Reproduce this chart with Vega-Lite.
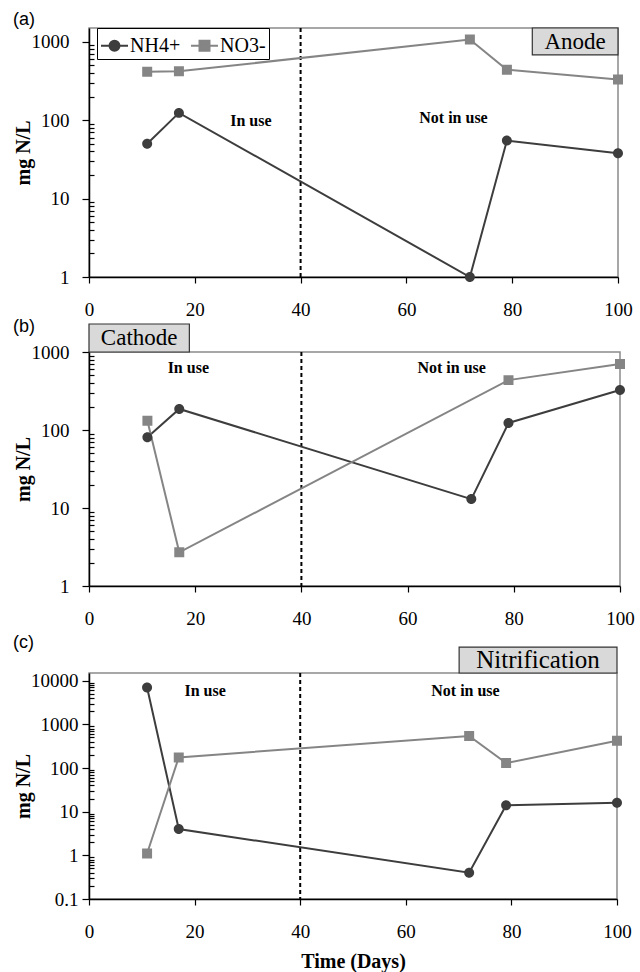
{
  "$schema": "https://vega.github.io/schema/vega-lite/v6.json",
  "background": "white",
  "padding": {"left": 12, "top": 10, "right": 5, "bottom": 2},
  "config": {
    "view": {"stroke": "#8a8a8a", "strokeWidth": 1.5},
    "font": "Liberation Serif",
    "legend": {"symbolStrokeWidth": 2},
    "axis": {"domainColor": "black", "domainWidth": 1.5, "tickColor": "black", "tickWidth": 1.2, "grid": false, "labelFont": "Liberation Serif", "labelFontSize": 19, "labelColor": "black", "titleFont": "Liberation Serif", "titleFontSize": 20, "titleFontWeight": "bold", "titleColor": "black", "labelFlush": false},
    "title": {"font": "Liberation Sans", "fontSize": 18, "fontWeight": "normal", "anchor": "start", "frame": "bounds", "color": "black"}
  },
  "datasets": {
    "nitrogen": [
      {"panel": "a", "series": "NH4+", "day": 11, "value": 50},
      {"panel": "a", "series": "NH4+", "day": 17, "value": 124},
      {"panel": "a", "series": "NH4+", "day": 72, "value": 1},
      {"panel": "a", "series": "NH4+", "day": 79, "value": 55},
      {"panel": "a", "series": "NH4+", "day": 100, "value": 38},
      {"panel": "a", "series": "NO3-", "day": 11, "value": 415},
      {"panel": "a", "series": "NO3-", "day": 17, "value": 420},
      {"panel": "a", "series": "NO3-", "day": 72, "value": 1070},
      {"panel": "a", "series": "NO3-", "day": 79, "value": 440},
      {"panel": "a", "series": "NO3-", "day": 100, "value": 330},
      {"panel": "b", "series": "NH4+", "day": 11, "value": 81},
      {"panel": "b", "series": "NH4+", "day": 17, "value": 186},
      {"panel": "b", "series": "NH4+", "day": 72, "value": 13},
      {"panel": "b", "series": "NH4+", "day": 79, "value": 123},
      {"panel": "b", "series": "NH4+", "day": 100, "value": 325},
      {"panel": "b", "series": "NO3-", "day": 11, "value": 131},
      {"panel": "b", "series": "NO3-", "day": 17, "value": 2.7},
      {"panel": "b", "series": "NO3-", "day": 79, "value": 436},
      {"panel": "b", "series": "NO3-", "day": 100, "value": 700},
      {"panel": "c", "series": "NH4+", "day": 11, "value": 7000},
      {"panel": "c", "series": "NH4+", "day": 17, "value": 4},
      {"panel": "c", "series": "NH4+", "day": 72, "value": 0.4},
      {"panel": "c", "series": "NH4+", "day": 79, "value": 14},
      {"panel": "c", "series": "NH4+", "day": 100, "value": 16},
      {"panel": "c", "series": "NO3-", "day": 11, "value": 1.1},
      {"panel": "c", "series": "NO3-", "day": 17, "value": 175},
      {"panel": "c", "series": "NO3-", "day": 72, "value": 540},
      {"panel": "c", "series": "NO3-", "day": 79, "value": 130},
      {"panel": "c", "series": "NO3-", "day": 100, "value": 420}
    ]
  },
  "vconcat": [
    {
      "width": 529,
      "height": 249,
      "title": {"text": "(a)", "offset": -2, "dx": 0},
      "layer": [
        {
          "data": {"values": [{}]},
          "mark": {"type": "rule", "strokeDash": [4, 3], "strokeWidth": 2, "color": "black"},
          "encoding": {"x": {"datum": 40, "type": "quantitative"}}
        },
        {
          "data": {"name": "nitrogen"},
          "transform": [{"filter": "datum.panel === 'a'"}],
          "mark": {"type": "line", "strokeWidth": 2},
          "encoding": {
            "x": {"field": "day", "type": "quantitative", "scale": {"domain": [0, 100], "nice": false}, "axis": {"values": [0, 20, 40, 60, 80, 100], "tickSize": 6, "labelPadding": 17, "title": null}},
            "y": {"field": "value", "type": "quantitative", "scale": {"type": "log", "domain": [1, 1500], "nice": false}, "axis": {"values": [1,2,3,4,5,6,7,8,9,10,20,30,40,50,60,70,80,90,100,200,300,400,500,600,700,800,900,1000], "format": "~g", "labelExpr": "abs(log(datum.value)/LN10 - round(log(datum.value)/LN10)) < 0.001 ? datum.label : ''", "tickSize": {"condition": {"test": "abs(log(datum.value)/LN10 - round(log(datum.value)/LN10)) < 0.001", "value": 7}, "value": -5}, "labelPadding": 13, "title": "mg N/L", "titleX": -66, "titleBaseline": "middle"}},
            "stroke": {"field": "series", "type": "nominal", "scale": {"domain": ["NH4+", "NO3-"], "range": ["#3d3d3d", "#858585"]},
              "legend": {"orient": "none", "legendX": 8, "legendY": 0, "direction": "horizontal", "title": null, "strokeColor": "black", "fillColor": "white", "padding": 3, "labelFontSize": 20, "labelFont": "Liberation Serif", "labelColor": "black", "symbolSize": 729, "labelOffset": 1, "columnPadding": 6, "symbolStrokeWidth": 2}}
          }
        },
        {
          "data": {"name": "nitrogen"},
          "transform": [{"filter": "datum.panel === 'a'"}],
          "mark": {"type": "point", "filled": true, "opacity": 1, "size": 729},
          "encoding": {
            "x": {"field": "day", "type": "quantitative"},
            "y": {"field": "value", "type": "quantitative"},
            "color": {"field": "series", "type": "nominal", "scale": {"domain": ["NH4+", "NO3-"], "range": ["#3d3d3d", "#858585"]},
              "legend": {"orient": "none", "legendX": 8, "legendY": 0, "direction": "horizontal", "title": null, "strokeColor": "black", "fillColor": "white", "padding": 3, "labelFontSize": 20, "labelFont": "Liberation Serif", "labelColor": "black", "symbolSize": 729, "labelOffset": 1, "columnPadding": 6, "symbolStrokeWidth": 2}},
            "shape": {"field": "series", "type": "nominal", "scale": {"domain": ["NH4+", "NO3-"], "range": ["M-1,0H1M0.37,0A0.37,0.37 0 1,1 -0.37,0A0.37,0.37 0 1,1 0.37,0Z", "M-1,0H1M-0.37,-0.37H0.37V0.37H-0.37Z"]},
              "legend": {"orient": "none", "legendX": 8, "legendY": 0, "direction": "horizontal", "title": null, "strokeColor": "black", "fillColor": "white", "padding": 3, "labelFontSize": 20, "labelFont": "Liberation Serif", "labelColor": "black", "symbolSize": 729, "labelOffset": 1, "columnPadding": 6, "symbolStrokeWidth": 2}}
          }
        },
        {
          "data": {"values": [{}]},
          "mark": {"type": "rect", "fill": "#d9d9d9", "stroke": "#333333", "strokeWidth": 1.2},
          "encoding": {"x": {"datum": 83.8, "type": "quantitative"}, "x2": {"datum": 100}, "y": {"datum": 1500, "type": "quantitative"}, "y2": {"datum": 680}}
        },
        {
          "data": {"values": [{}]},
          "mark": {"type": "text", "font": "Liberation Serif", "fontSize": 23, "color": "black"},
          "encoding": {"x": {"datum": 91.9, "type": "quantitative"}, "y": {"datum": 1000, "type": "quantitative"}, "text": {"value": "Anode"}}
        },
        {
          "data": {"values": [{}]},
          "mark": {"type": "text", "font": "Liberation Serif", "fontWeight": "bold", "fontSize": 16, "color": "black"},
          "encoding": {"x": {"datum": 30.6, "type": "quantitative"}, "y": {"datum": 98, "type": "quantitative"}, "text": {"value": "In use"}}
        },
        {
          "data": {"values": [{}]},
          "mark": {"type": "text", "font": "Liberation Serif", "fontWeight": "bold", "fontSize": 16, "color": "black"},
          "encoding": {"x": {"datum": 68.9, "type": "quantitative"}, "y": {"datum": 107, "type": "quantitative"}, "text": {"value": "Not in use"}}
        }
      ]
    },
    {
      "width": 531,
      "height": 234,
      "title": {"text": "(b)", "offset": -13, "dx": 0},
      "layer": [
        {
          "data": {"values": [{}]},
          "mark": {"type": "rule", "strokeDash": [4, 3], "strokeWidth": 2, "color": "black"},
          "encoding": {"x": {"datum": 40, "type": "quantitative"}}
        },
        {
          "data": {"name": "nitrogen"},
          "transform": [{"filter": "datum.panel === 'b'"}],
          "mark": {"type": "line", "strokeWidth": 2},
          "encoding": {
            "x": {"field": "day", "type": "quantitative", "scale": {"domain": [0, 100], "nice": false}, "axis": {"values": [0, 20, 40, 60, 80, 100], "tickSize": 6, "labelPadding": 17, "title": "Time", "titleOpacity": 0, "titleFontSize": 7, "titlePadding": 0}},
            "y": {"field": "value", "type": "quantitative", "scale": {"type": "log", "domain": [1, 1000], "nice": false}, "axis": {"values": [1,2,3,4,5,6,7,8,9,10,20,30,40,50,60,70,80,90,100,200,300,400,500,600,700,800,900,1000], "format": "~g", "labelExpr": "abs(log(datum.value)/LN10 - round(log(datum.value)/LN10)) < 0.001 ? datum.label : ''", "tickSize": {"condition": {"test": "abs(log(datum.value)/LN10 - round(log(datum.value)/LN10)) < 0.001", "value": 7}, "value": -5}, "labelPadding": 13, "title": "mg N/L", "titleX": -66, "titleBaseline": "middle"}},
            "stroke": {"field": "series", "type": "nominal", "scale": {"domain": ["NO3-", "NH4+"], "range": ["#858585", "#3d3d3d"]}, "legend": null}
          }
        },
        {
          "data": {"name": "nitrogen"},
          "transform": [{"filter": "datum.panel === 'b'"}],
          "mark": {"type": "point", "filled": true, "opacity": 1, "size": 729},
          "encoding": {
            "x": {"field": "day", "type": "quantitative"},
            "y": {"field": "value", "type": "quantitative"},
            "fill": {"field": "series", "type": "nominal", "scale": {"domain": ["NH4+", "NO3-"], "range": ["#3d3d3d", "#858585"]}, "legend": null},
            "shape": {"field": "series", "type": "nominal", "scale": {"domain": ["NH4+", "NO3-"], "range": ["M-1,0H1M0.37,0A0.37,0.37 0 1,1 -0.37,0A0.37,0.37 0 1,1 0.37,0Z", "M-1,0H1M-0.37,-0.37H0.37V0.37H-0.37Z"]}, "legend": null}
          }
        },
        {
          "data": {"values": [{}]},
          "mark": {"type": "rect", "fill": "#d9d9d9", "stroke": "#333333", "strokeWidth": 1.2},
          "encoding": {"x": {"datum": 0, "type": "quantitative"}, "x2": {"datum": 18.9}, "y": {"datum": 1000, "type": "quantitative"}, "y2": {"datum": 2285}}
        },
        {
          "data": {"values": [{}]},
          "mark": {"type": "text", "font": "Liberation Serif", "fontSize": 23, "color": "black"},
          "encoding": {"x": {"datum": 9.45, "type": "quantitative"}, "y": {"datum": 1512, "type": "quantitative"}, "text": {"value": "Cathode"}}
        },
        {
          "data": {"values": [{}]},
          "mark": {"type": "text", "font": "Liberation Serif", "fontWeight": "bold", "fontSize": 16, "color": "black"},
          "encoding": {"x": {"datum": 18.7, "type": "quantitative"}, "y": {"datum": 620, "type": "quantitative"}, "text": {"value": "In use"}}
        },
        {
          "data": {"values": [{}]},
          "mark": {"type": "text", "font": "Liberation Serif", "fontWeight": "bold", "fontSize": 16, "color": "black"},
          "encoding": {"x": {"datum": 68.3, "type": "quantitative"}, "y": {"datum": 620, "type": "quantitative"}, "text": {"value": "Not in use"}}
        }
      ]
    },
    {
      "width": 528,
      "height": 226,
      "title": {"text": "(c)", "offset": -6, "dx": 0},
      "layer": [
        {
          "data": {"values": [{}]},
          "mark": {"type": "rule", "strokeDash": [4, 3], "strokeWidth": 2, "color": "black"},
          "encoding": {"x": {"datum": 40, "type": "quantitative"}}
        },
        {
          "data": {"name": "nitrogen"},
          "transform": [{"filter": "datum.panel === 'c'"}],
          "mark": {"type": "line", "strokeWidth": 2},
          "encoding": {
            "x": {"field": "day", "type": "quantitative", "scale": {"domain": [0, 100], "nice": false}, "axis": {"values": [0, 20, 40, 60, 80, 100], "tickSize": 6, "labelPadding": 17, "title": "Time (Days)", "titlePadding": 10}},
            "y": {"field": "value", "type": "quantitative", "scale": {"type": "log", "domain": [0.1, 15000], "nice": false}, "axis": {"values": [0.1,0.2,0.3,0.4,0.5,0.6,0.7,0.8,0.9,1,2,3,4,5,6,7,8,9,10,20,30,40,50,60,70,80,90,100,200,300,400,500,600,700,800,900,1000,2000,3000,4000,5000,6000,7000,8000,9000,10000], "format": "~g", "labelExpr": "abs(log(datum.value)/LN10 - round(log(datum.value)/LN10)) < 0.001 ? datum.label : ''", "tickSize": {"condition": {"test": "abs(log(datum.value)/LN10 - round(log(datum.value)/LN10)) < 0.001", "value": 7}, "value": -5}, "labelPadding": 4, "title": "mg N/L", "titleX": -66, "titleBaseline": "middle"}},
            "stroke": {"field": "series", "type": "nominal", "scale": {"domain": ["NO3-", "NH4+"], "range": ["#858585", "#3d3d3d"]}, "legend": null}
          }
        },
        {
          "data": {"name": "nitrogen"},
          "transform": [{"filter": "datum.panel === 'c'"}],
          "mark": {"type": "point", "filled": true, "opacity": 1, "size": 729},
          "encoding": {
            "x": {"field": "day", "type": "quantitative"},
            "y": {"field": "value", "type": "quantitative"},
            "fill": {"field": "series", "type": "nominal", "scale": {"domain": ["NH4+", "NO3-"], "range": ["#3d3d3d", "#858585"]}, "legend": null},
            "shape": {"field": "series", "type": "nominal", "scale": {"domain": ["NH4+", "NO3-"], "range": ["M-1,0H1M0.37,0A0.37,0.37 0 1,1 -0.37,0A0.37,0.37 0 1,1 0.37,0Z", "M-1,0H1M-0.37,-0.37H0.37V0.37H-0.37Z"]}, "legend": null}
          }
        },
        {
          "data": {"values": [{}]},
          "mark": {"type": "rect", "fill": "#d9d9d9", "stroke": "#333333", "strokeWidth": 1.2},
          "encoding": {"x": {"datum": 70.1, "type": "quantitative"}, "x2": {"datum": 100}, "y": {"datum": 15000, "type": "quantitative"}, "y2": {"datum": 59000}}
        },
        {
          "data": {"values": [{}]},
          "mark": {"type": "text", "font": "Liberation Serif", "fontSize": 25, "color": "black"},
          "encoding": {"x": {"datum": 85.05, "type": "quantitative"}, "y": {"datum": 29700, "type": "quantitative"}, "text": {"value": "Nitrification"}}
        },
        {
          "data": {"values": [{}]},
          "mark": {"type": "text", "font": "Liberation Serif", "fontWeight": "bold", "fontSize": 16, "color": "black"},
          "encoding": {"x": {"datum": 22, "type": "quantitative"}, "y": {"datum": 5750, "type": "quantitative"}, "text": {"value": "In use"}}
        },
        {
          "data": {"values": [{}]},
          "mark": {"type": "text", "font": "Liberation Serif", "fontWeight": "bold", "fontSize": 16, "color": "black"},
          "encoding": {"x": {"datum": 71.3, "type": "quantitative"}, "y": {"datum": 5900, "type": "quantitative"}, "text": {"value": "Not in use"}}
        }
      ]
    }
  ],
  "spacing": -3,
  "resolve": {"scale": {"color": "independent", "shape": "independent", "stroke": "independent", "fill": "independent"}, "legend": {"color": "independent", "shape": "independent", "stroke": "independent", "fill": "independent"}}
}
